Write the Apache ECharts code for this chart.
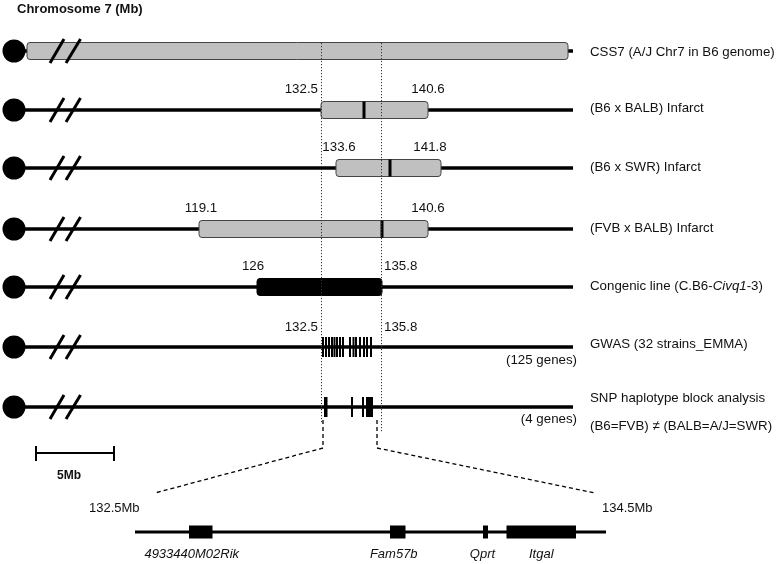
<!DOCTYPE html>
<html><head><meta charset="utf-8">
<script src="https://cdn.jsdelivr.net/npm/echarts@6/dist/echarts.min.js"></script>
<style>html,body{margin:0;padding:0;background:#fff}#c{width:777px;height:564px}</style>
</head><body><div id="c"></div>
<script>
// ---------- data (schematic diagram units) ----------
const trackNames = ['CSS7 (A/J Chr7 in B6 genome)', '(B6 x BALB) Infarct', '(B6 x SWR) Infarct',
  '(FVB x BALB) Infarct', 'Congenic line (C.B6-{i|Civq1}-3)', 'GWAS (32 strains_EMMA)', 'SNP haplotype block analysis'];
const trackPos = [51, 110, 168, 229, 287, 347, 407];
const regionStart = [27, 321, 336, 199, 257];
const regionEnd = [568, 428, 441, 428, 382];
const regionKind = ['css', 'qtl', 'qtl', 'qtl', 'congenic'];
const peakMarks = [null, 364, 390, 382, null];
const startLabels = [null, '132.5', '133.6', '119.1', '126', '132.5'];
const endLabels = [null, '140.6', '141.8', '140.6', '135.8', '135.8'];
const gwasGenes = [323, 326, 329, 332, 334.5, 337, 340, 343, 350, 353.5, 356, 360, 364, 367, 371];
const snpStart = [324, 351, 362, 366];
const snpEnd = [327.5, 353, 364, 373];
const geneCounts = ['(125 genes)', '(4 genes)'];
const snpNote = '(B6=FVB) \u2260 (BALB=A/J=SWR)';
const focusBounds = [321, 381];
const zoomLabels = ['132.5Mb', '134.5Mb'];
const geneNames = ['4933440M02Rik', 'Fam57b', 'Qprt', 'Itgal'];
const geneStart = [189, 390, 483, 506.5];
const geneEnd = [212.5, 405.5, 488, 576];
const scaleBarLabel = '5Mb';

// ---------- layout ----------
const FONT = '"Liberation Sans", Arial, sans-serif';
const TRACK_X0 = 14, TRACK_X1 = 573, LABEL_X = 590;
const labelDy = [1, -2, -1, -1, -1, -3, -9];
const startLayout = [null, ['right', -3], ['center', 3], ['center', 2], ['center', -4], ['right', -3]];
const endLayout = [null, ['center', 0], ['center', -11], ['center', 0], ['left', 2], ['left', 3]];

const chart = echarts.init(document.getElementById('c'), null, {renderer: 'canvas'});

function txt(p, text, align, extra) {
  return {type: 'text', style: Object.assign({x: p[0], y: p[1], text: text, fill: '#111', font: '13.3px ' + FONT,
    align: align || 'left', verticalAlign: 'middle'}, extra || {})};
}

const series = [];

// tracks: line and name
series.push({
  type: 'custom', z: 1, data: trackPos.map((y, i) => [i, y]),
  renderItem: function (params, api) {
    const i = api.value(0), y = api.value(1);
    const a = api.coord([TRACK_X0, y]), b = api.coord([TRACK_X1, y]);
    const lp = api.coord([LABEL_X, y + labelDy[i]]);
    return {type: 'group', children: [
      {type: 'line', shape: {x1: a[0], y1: a[1], x2: b[0], y2: b[1]}, style: {stroke: '#000', lineWidth: 3.5}},
      txt(lp, trackNames[i], 'left', {rich: {i: {fontStyle: 'italic', fontSize: 13.3, fontFamily: FONT, fill: '#111'}}})
    ]};
  }
});

// centromere circles and break slashes (on top)
series.push({
  type: 'custom', z: 6, data: trackPos.map((y, i) => [i, y]),
  renderItem: function (params, api) {
    const y = api.value(1);
    const c = api.coord([14, y]);
    const ch = [{type: 'circle', shape: {cx: c[0], cy: c[1], r: 11.5}, style: {fill: '#000'}}];
    [[50, 64], [66, 80.5]].forEach(s => {
      const p1 = api.coord([s[0], y + 12]), p2 = api.coord([s[1], y - 12]);
      ch.push({type: 'line', shape: {x1: p1[0], y1: p1[1], x2: p2[0], y2: p2[1]}, style: {stroke: '#000', lineWidth: 3}});
    });
    return {type: 'group', children: ch};
  }
});

// regions (boxes) with peak marks and boundary labels
series.push({
  type: 'custom', z: 2, data: regionStart.map((s, i) => [i, s, regionEnd[i]]),
  renderItem: function (params, api) {
    const i = api.value(0), y = trackPos[i];
    const p0 = api.coord([api.value(1), y - 8.5]), p1 = api.coord([api.value(2), y + 8.5]);
    const black = regionKind[i] === 'congenic';
    const ch = [{type: 'rect', shape: {x: p0[0], y: p0[1], width: p1[0] - p0[0], height: p1[1] - p0[1], r: 3},
      style: {fill: black ? '#000' : '#c0c0c0', stroke: black ? '#000' : '#444', lineWidth: 1}}];
    if (peakMarks[i] != null) {
      const m0 = api.coord([peakMarks[i], y - 8.5]), m1 = api.coord([peakMarks[i], y + 8.5]);
      ch.push({type: 'line', shape: {x1: m0[0], y1: m0[1], x2: m1[0], y2: m1[1]}, style: {stroke: '#000', lineWidth: 3}});
    }
    if (startLabels[i]) {
      const q = api.coord([api.value(1) + startLayout[i][1], y - 21]);
      ch.push(txt(q, startLabels[i], startLayout[i][0]));
    }
    if (endLabels[i]) {
      const q = api.coord([api.value(2) + endLayout[i][1], y - 21]);
      ch.push(txt(q, endLabels[i], endLayout[i][0]));
    }
    return {type: 'group', children: ch};
  }
});

// GWAS / SNP row annotations
series.push({
  type: 'custom', z: 2, data: [[5]],
  renderItem: function (params, api) {
    const y = trackPos[5];
    const ch = [];
    ch.push(txt(api.coord([focusBounds[0] - 3, y - 20]), startLabels[5], 'right'));
    ch.push(txt(api.coord([focusBounds[1] + 3, y - 20]), endLabels[5], 'left'));
    ch.push(txt(api.coord([577, y + 13]), geneCounts[0], 'right'));
    ch.push(txt(api.coord([577, trackPos[6] + 12]), geneCounts[1], 'right'));
    ch.push(txt(api.coord([LABEL_X, trackPos[6] + 19]), snpNote, 'left'));
    return {type: 'group', children: ch};
  }
});

// GWAS gene ticks
series.push({
  type: 'custom', z: 3, data: gwasGenes.map(x => [x]),
  renderItem: function (params, api) {
    const y = trackPos[5];
    const p0 = api.coord([api.value(0) - 1, y - 10]), p1 = api.coord([api.value(0) + 1, y + 10]);
    return {type: 'rect', shape: {x: p0[0], y: p0[1], width: p1[0] - p0[0], height: p1[1] - p0[1]}, style: {fill: '#000'}};
  }
});

// SNP haplotype blocks
series.push({
  type: 'custom', z: 3, data: snpStart.map((s, i) => [s, snpEnd[i]]),
  renderItem: function (params, api) {
    const y = trackPos[6];
    const p0 = api.coord([api.value(0), y - 10]), p1 = api.coord([api.value(1), y + 10]);
    return {type: 'rect', shape: {x: p0[0], y: p0[1], width: p1[0] - p0[0], height: p1[1] - p0[1]}, style: {fill: '#000'}};
  }
});

// dotted focus lines
series.push({
  type: 'custom', z: 10, data: focusBounds.map((x, i) => [x, i]),
  renderItem: function (params, api) {
    const p0 = api.coord([api.value(0), 43]), p1 = api.coord([api.value(0), api.value(1) ? 432 : 424]);
    return {type: 'line', shape: {x1: p0[0] + 0.5, y1: p0[1], x2: p1[0] + 0.5, y2: p1[1]},
      style: {stroke: '#333', lineWidth: 1, lineDash: [1.2, 1.8]}};
  }
});

// dashed zoom connectors
series.push({
  type: 'custom', z: 10, data: [[323, 155], [377, 595]],
  renderItem: function (params, api) {
    const pts = [[api.value(0), 420], [api.value(0), 448], [api.value(1), 493]].map(p => api.coord(p));
    return {type: 'polyline', shape: {points: pts}, style: {stroke: '#000', lineWidth: 1.3, lineDash: [4, 3], fill: null}};
  }
});

// scale bar
series.push({
  type: 'custom', z: 3, data: [[36, 114]],
  renderItem: function (params, api) {
    const x0 = api.value(0), x1 = api.value(1), y = 453;
    const L = (a, b) => ({type: 'line', shape: {x1: a[0], y1: a[1], x2: b[0], y2: b[1]}, style: {stroke: '#000', lineWidth: 2}});
    return {type: 'group', children: [
      L(api.coord([x0, y]), api.coord([x1, y])),
      L(api.coord([x0, y - 7]), api.coord([x0, y + 8])),
      L(api.coord([x1, y - 7]), api.coord([x1, y + 8])),
      txt(api.coord([(x0 + x1) / 2 - 6, 476]), scaleBarLabel, 'center', {font: 'bold 12px ' + FONT})
    ]};
  }
});

// zoomed gene track
series.push({
  type: 'custom', z: 3, data: geneStart.map((s, i) => [s, geneEnd[i], i]),
  renderItem: function (params, api) {
    const y = 532, i = api.value(2);
    const p0 = api.coord([api.value(0), y - 6.5]), p1 = api.coord([api.value(1), y + 6.5]);
    const ch = [{type: 'rect', shape: {x: p0[0], y: p0[1], width: p1[0] - p0[0], height: p1[1] - p0[1]}, style: {fill: '#000'}, z2: 2}];
    const lx = (api.value(0) + api.value(1)) / 2 + (i === 0 ? -9 : i === 1 ? -4 : i === 2 ? -3 : 0);
    ch.push(txt(api.coord([lx, 554]), geneNames[i], 'center', {font: 'italic 13px ' + FONT}));
    if (i === 0) {
      const a = api.coord([135, y]), b = api.coord([606, y]);
      ch.push({type: 'line', shape: {x1: a[0], y1: a[1], x2: b[0], y2: b[1]}, style: {stroke: '#000', lineWidth: 3}, z2: 1});
      ch.push(txt(api.coord([89, 508]), zoomLabels[0], 'left', {font: '13px ' + FONT}));
      ch.push(txt(api.coord([602, 508]), zoomLabels[1], 'left', {font: '13px ' + FONT}));
    }
    return {type: 'group', children: ch};
  }
});

chart.setOption({
  animation: false,
  backgroundColor: '#fff',
  title: {text: 'Chromosome 7 (Mb)', left: 17, top: 3, padding: 0,
    textStyle: {fontSize: 13, fontWeight: 'bold', color: '#111', fontFamily: FONT}},
  grid: {left: 0, right: 0, top: 0, bottom: 0},
  xAxis: {type: 'value', min: 0, max: 777, show: false},
  yAxis: {type: 'value', min: 0, max: 564, inverse: true, show: false},
  series: series
});
</script></body></html>
